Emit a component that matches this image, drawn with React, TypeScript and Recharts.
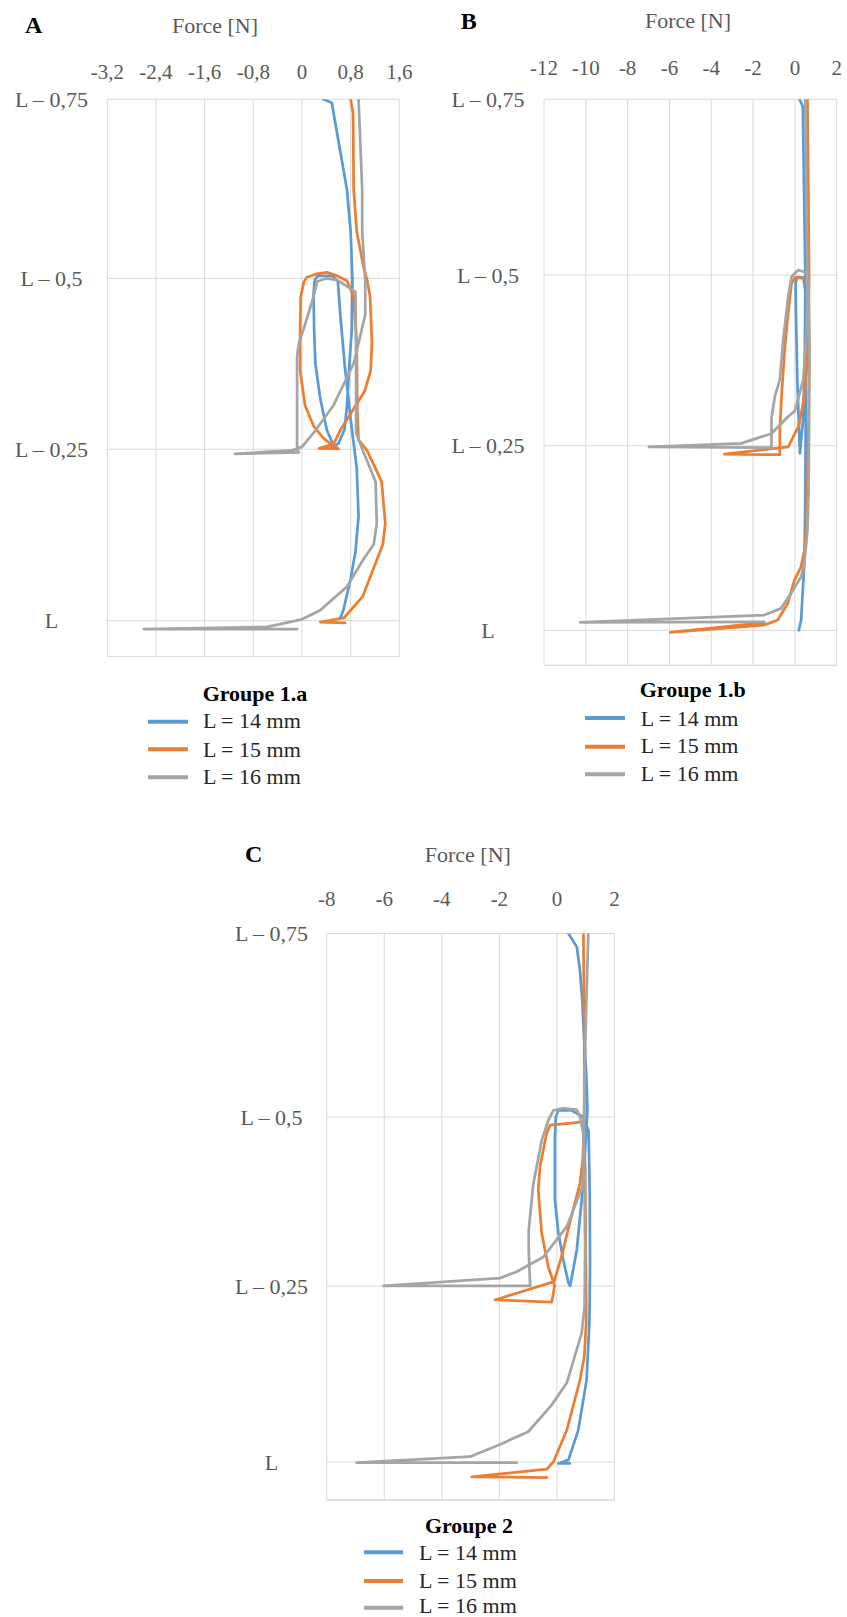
import React from 'react';
import { ScatterChart, Scatter, XAxis, YAxis, CartesianGrid, ReferenceLine } from 'recharts';

const FONT = 'Liberation Serif, DejaVu Serif, serif';
const TICK_COLOR = '#595959';
const GRID_COLOR = '#D9D9D9';
const COLORS = ['#5B9BD5', '#ED7D31', '#A5A5A5'];
const SERIES_NAMES = ['L = 14 mm', 'L = 15 mm', 'L = 16 mm'];
const Y_LABELS = ['L', 'L – 0,25', 'L – 0,5', 'L – 0,75'];
const AXIS_TITLE = 'Force [N]';

// ---------- Panel A (Groupe 1.a) ----------
const A_xTicks = [-3.2, -2.4, -1.6, -0.8, 0, 0.8, 1.6];
const A_xLabels = ['-3,2', '-2,4', '-1,6', '-0,8', '0', '0,8', '1,6'];
const A_yTicks = [0, 0.2466, 0.4925, 0.75];
const A_yMin = -0.0515;
const A_L14 = [
  [0.35, 0.75], [0.49, 0.745], [0.74, 0.62], [0.80, 0.56], [0.83, 0.49], [0.82, 0.42], [0.78, 0.37],
  [0.74, 0.31], [0.70, 0.275], [0.60, 0.255], [0.47, 0.249], [0.58, 0.248], [0.52, 0.252], [0.41, 0.274],
  [0.30, 0.32], [0.22, 0.37], [0.20, 0.42], [0.19, 0.47], [0.21, 0.49], [0.26, 0.496], [0.50, 0.496],
  [0.59, 0.488], [0.63, 0.44], [0.70, 0.37], [0.80, 0.29], [0.90, 0.22], [0.93, 0.15], [0.88, 0.10],
  [0.80, 0.06], [0.68, 0.015], [0.63, 0.004],
];
const A_L15 = [
  [0.80, 0.75], [0.84, 0.73], [0.85, 0.62], [0.90, 0.56], [1.01, 0.51], [1.07, 0.49], [1.12, 0.466],
  [1.15, 0.40], [1.13, 0.36], [1.03, 0.33], [0.85, 0.305], [0.63, 0.274], [0.52, 0.254], [0.28, 0.248],
  [0.60, 0.247], [0.45, 0.256], [0.36, 0.262], [0.19, 0.28], [0.05, 0.31], [-0.03, 0.36], [-0.03, 0.42],
  [-0.02, 0.466], [0.03, 0.487], [0.08, 0.494], [0.25, 0.499], [0.41, 0.501], [0.58, 0.496], [0.74, 0.489],
  [0.85, 0.466], [0.90, 0.40], [0.91, 0.30], [0.93, 0.26], [1.07, 0.245], [1.31, 0.20], [1.37, 0.14],
  [1.33, 0.11], [1.22, 0.085], [1.0, 0.035], [0.80, 0.015], [0.69, 0.004], [0.30, -0.002], [0.71, -0.003],
];
const A_L16 = [
  [0.93, 0.75], [0.99, 0.62], [0.99, 0.56], [1.04, 0.49], [1.04, 0.44], [0.85, 0.37], [0.52, 0.31],
  [0.19, 0.27], [0.0, 0.25], [-0.16, 0.245], [-1.10, 0.24], [-0.05, 0.242], [-0.08, 0.246], [-0.08, 0.38],
  [-0.05, 0.40], [0.03, 0.42], [0.19, 0.466], [0.25, 0.488], [0.41, 0.4925], [0.58, 0.49], [0.88, 0.473],
  [0.89, 0.37], [0.89, 0.27], [1.0, 0.245], [1.21, 0.20], [1.23, 0.14], [1.18, 0.11], [1.0, 0.087],
  [0.74, 0.049], [0.30, 0.015], [0.0, 0.002], [-0.57, -0.009], [-2.60, -0.012], [-0.08, -0.012],
];

// ---------- Panel B (Groupe 1.b) ----------
const B_xTicks = [-12, -10, -8, -6, -4, -2, 0, 2];
const B_xLabels = ['-12', '-10', '-8', '-6', '-4', '-2', '0', '2'];
const B_yTicks = [0, 0.2607, 0.5018, 0.75];
const B_yMin = -0.0494;
const B_L14 = [
  [0.22, 0.75], [0.38, 0.74], [0.45, 0.60], [0.50, 0.50], [0.48, 0.40], [0.40, 0.30], [0.24, 0.25],
  [0.12, 0.35], [0.05, 0.45], [0.03, 0.49], [0.10, 0.499], [0.40, 0.498], [0.50, 0.48], [0.52, 0.40],
  [0.52, 0.30], [0.50, 0.20], [0.46, 0.10], [0.30, 0.015], [0.19, 0.0],
];
const B_L15 = [
  [0.60, 0.75], [0.65, 0.60], [0.68, 0.50], [0.62, 0.40], [0.45, 0.33], [0.20, 0.29], [-0.32, 0.259],
  [-3.37, 0.249], [-0.72, 0.248], [-0.72, 0.283], [-0.64, 0.33], [-0.48, 0.40], [-0.32, 0.448],
  [-0.16, 0.49], [0.0, 0.498], [0.50, 0.497], [0.62, 0.48], [0.68, 0.40], [0.66, 0.30], [0.60, 0.20],
  [0.50, 0.12], [0.30, 0.09], [-0.02, 0.071], [-0.34, 0.038], [-0.82, 0.0145], [-1.46, 0.0075],
  [-5.96, -0.003], [-1.46, 0.011],
];
const B_L16 = [
  [0.50, 0.75], [0.55, 0.60], [0.60, 0.51], [0.56, 0.42], [0.40, 0.354], [0.0, 0.31], [-0.32, 0.302],
  [-1.12, 0.278], [-2.57, 0.264], [-6.98, 0.259], [-1.12, 0.258], [-1.12, 0.30], [-0.96, 0.33],
  [-0.72, 0.354], [-0.56, 0.41], [-0.32, 0.471], [-0.16, 0.4995], [0.16, 0.509], [0.56, 0.505],
  [0.66, 0.49], [0.70, 0.40], [0.68, 0.30], [0.66, 0.20], [0.60, 0.14], [0.45, 0.095], [0.30, 0.0757],
  [-0.18, 0.0523], [-0.66, 0.031], [-1.46, 0.0216], [-10.26, 0.0113], [-1.46, 0.0121],
];

// ---------- Panel C (Groupe 2) ----------
const C_xTicks = [-8, -6, -4, -2, 0, 2];
const C_xLabels = ['-8', '-6', '-4', '-2', '0', '2'];
const C_yTicks = [0, 0.2498, 0.4896, 0.75];
const C_yMin = -0.0539;
const C_L14 = [
  [0.40, 0.75], [0.69, 0.731], [0.80, 0.698], [0.88, 0.656], [0.92, 0.62], [1.02, 0.55], [1.06, 0.50],
  [0.98, 0.443], [0.86, 0.372], [0.69, 0.301], [0.46, 0.25], [0.40, 0.254], [0.22, 0.287], [0.05, 0.325],
  [-0.07, 0.372], [-0.07, 0.46], [-0.04, 0.49], [0.05, 0.499], [0.50, 0.499], [0.90, 0.49], [1.10, 0.47],
  [1.14, 0.38], [1.15, 0.28], [1.13, 0.20], [1.03, 0.116], [0.74, 0.045], [0.40, 0.003], [0.05, -0.002],
  [0.45, -0.002],
];
const C_L15 = [
  [0.92, 0.75], [0.95, 0.60], [0.95, 0.50], [0.90, 0.43], [0.80, 0.395], [0.45, 0.34], [0.15, 0.29],
  [-0.10, 0.256], [-2.15, 0.230], [-0.18, 0.227], [-0.08, 0.25], [-0.30, 0.277], [-0.53, 0.325],
  [-0.65, 0.386], [-0.59, 0.419], [-0.36, 0.466], [-0.24, 0.478], [0.50, 0.481], [0.92, 0.483],
  [0.98, 0.42], [1.0, 0.30], [1.02, 0.20], [0.95, 0.15], [0.80, 0.116], [0.34, 0.045], [-0.12, 0.0004],
  [-0.35, -0.010], [-2.96, -0.021], [-0.35, -0.022],
];
const C_L16 = [
  [1.09, 0.75], [1.02, 0.65], [0.96, 0.55], [0.94, 0.47], [0.92, 0.394], [0.34, 0.334], [-0.47, 0.291],
  [-1.40, 0.270], [-1.98, 0.261], [-6.03, 0.250], [-0.93, 0.250], [-0.98, 0.30], [-0.98, 0.329],
  [-0.82, 0.395], [-0.53, 0.456], [-0.30, 0.485], [-0.12, 0.499], [0.22, 0.502], [0.69, 0.50],
  [0.80, 0.49], [0.92, 0.466], [0.96, 0.38], [0.98, 0.30], [0.96, 0.22], [0.86, 0.183], [0.34, 0.112],
  [-0.2, 0.08], [-1.0, 0.043], [-1.98, 0.025], [-3.02, 0.0075], [-6.96, -0.001], [-1.40, -0.001],
];

const toPts = (arr: number[][]) => arr.map(([x, y]) => ({ x, y }));

type PanelProps = {
  left: number; top: number; width: number; height: number;
  yAxisWidth: number; xAxisHeight: number; marginRight: number; marginBottom: number;
  yLabelX: number; xTickBaseline: number;
  xTicks: number[]; xLabels: string[]; yTicks: number[]; yMin: number;
  series: number[][][];
};

const textStyle: React.CSSProperties = { fontFamily: FONT, fontWeight: 400 };
const boldStyle: React.CSSProperties = { fontFamily: FONT, fontWeight: 700 };

function Panel(p: PanelProps) {
  const xDomain: [number, number] = [p.xTicks[0], p.xTicks[p.xTicks.length - 1]];
  const XTick = (props: any) => {
    const i = p.xTicks.indexOf(props.payload.value);
    return (
      <text x={props.x} y={p.xTickBaseline} textAnchor="middle" fill={TICK_COLOR}
        fontSize={21} style={textStyle}>{p.xLabels[i]}</text>
    );
  };
  const YTick = (props: any) => {
    const i = p.yTicks.indexOf(props.payload.value);
    return (
      <text x={p.yLabelX} y={props.y} dy="0.35em" textAnchor="middle" fill={TICK_COLOR}
        fontSize={22} style={textStyle}>{Y_LABELS[i]}</text>
    );
  };
  return (
    <div style={{ position: 'absolute', left: p.left, top: p.top }}>
      <ScatterChart width={p.width} height={p.height}
        margin={{ top: 0, left: 0, right: p.marginRight, bottom: p.marginBottom }}>
        <CartesianGrid stroke={GRID_COLOR} strokeWidth={1} />
        <XAxis type="number" dataKey="x" orientation="top" domain={xDomain} ticks={p.xTicks}
          interval={0} allowDataOverflow height={p.xAxisHeight} axisLine={false} tickLine={false}
          tick={XTick} />
        <YAxis type="number" dataKey="y" domain={[p.yMin, 0.75]} ticks={p.yTicks} interval={0}
          allowDataOverflow width={p.yAxisWidth} axisLine={false} tickLine={false} tick={YTick} />
        <ReferenceLine y={p.yMin} stroke={GRID_COLOR} strokeWidth={1} />
        {p.series.map((s, i) => (
          <Scatter key={i} data={toPts(s)} fill={COLORS[i]}
            line={{ stroke: COLORS[i], strokeWidth: 2.75, strokeLinejoin: 'round', strokeLinecap: 'round' }}
            lineJointType="linear" shape={() => <g />} isAnimationActive={false} />
        ))}
      </ScatterChart>
    </div>
  );
}

type LegendProps = { title: string; titleX: number; titleBase: number; swX1: number; swX2: number; textX: number; rowCenters: number[]; rowBases: number[] };

function LegendBlock(l: LegendProps) {
  return (
    <g>
      <text x={l.titleX} y={l.titleBase} textAnchor="middle" fontSize={22} style={boldStyle} fill="#000">{l.title}</text>
      {SERIES_NAMES.map((n, i) => (
        <g key={n}>
          <line x1={l.swX1} x2={l.swX2} y1={l.rowCenters[i]} y2={l.rowCenters[i]} stroke={COLORS[i]} strokeWidth={4} />
          <text x={l.textX} y={l.rowBases[i]} fontSize={22} style={textStyle} fill="#262626">{n}</text>
        </g>
      ))}
    </g>
  );
}

export default function App() {
  return (
    <div style={{ position: 'absolute', left: 0, top: 0, width: 847, height: 1617, background: '#fff', overflow: 'hidden' }}>
      <Panel left={0} top={0} width={420} height={662} yAxisWidth={107.3} xAxisHeight={99.3}
        marginRight={20.7} marginBottom={5.5} yLabelX={51.5} xTickBaseline={78.5}
        xTicks={A_xTicks} xLabels={A_xLabels} yTicks={A_yTicks} yMin={A_yMin}
        series={[A_L14, A_L15, A_L16]} />
      <Panel left={420} top={0} width={427} height={670} yAxisWidth={124} xAxisHeight={99.3}
        marginRight={10.3} marginBottom={4.7} yLabelX={68} xTickBaseline={75}
        xTicks={B_xTicks} xLabels={B_xLabels} yTicks={B_yTicks} yMin={B_yMin}
        series={[B_L14, B_L15, B_L16]} />
      <Panel left={180} top={820} width={450} height={690} yAxisWidth={146.7} xAxisHeight={113.5}
        marginRight={15.5} marginBottom={10} yLabelX={91.5} xTickBaseline={86}
        xTicks={C_xTicks} xLabels={C_xLabels} yTicks={C_yTicks} yMin={C_yMin}
        series={[C_L14, C_L15, C_L16]} />
      <svg width={847} height={1617} style={{ position: 'absolute', left: 0, top: 0, pointerEvents: 'none' }}>
        <text x={25} y={33.3} fontSize={24} style={boldStyle} fill="#000">A</text>
        <text x={460.7} y={29.3} fontSize={24} style={boldStyle} fill="#000">B</text>
        <text x={245} y={861.7} fontSize={24} style={boldStyle} fill="#000">C</text>
        <text x={215} y={33.3} textAnchor="middle" fontSize={22} style={textStyle} fill={TICK_COLOR}>{AXIS_TITLE}</text>
        <text x={688} y={28.3} textAnchor="middle" fontSize={22} style={textStyle} fill={TICK_COLOR}>{AXIS_TITLE}</text>
        <text x={467.8} y={861.7} textAnchor="middle" fontSize={22} style={textStyle} fill={TICK_COLOR}>{AXIS_TITLE}</text>
        <LegendBlock title="Groupe 1.a" titleX={255} titleBase={700.7} swX1={148} swX2={188} textX={203}
          rowCenters={[721.7, 749.3, 777.3]} rowBases={[728.3, 756.7, 784]} />
        <LegendBlock title="Groupe 1.b" titleX={692.7} titleBase={697.3} swX1={585} swX2={625} textX={640.7}
          rowCenters={[718, 746.7, 774.3]} rowBases={[725.7, 753.3, 781.3]} />
        <LegendBlock title="Groupe 2" titleX={469} titleBase={1533} swX1={364} swX2={403} textX={419}
          rowCenters={[1552.3, 1581, 1607.7]} rowBases={[1560, 1588.3, 1613]} />
      </svg>
    </div>
  );
}
